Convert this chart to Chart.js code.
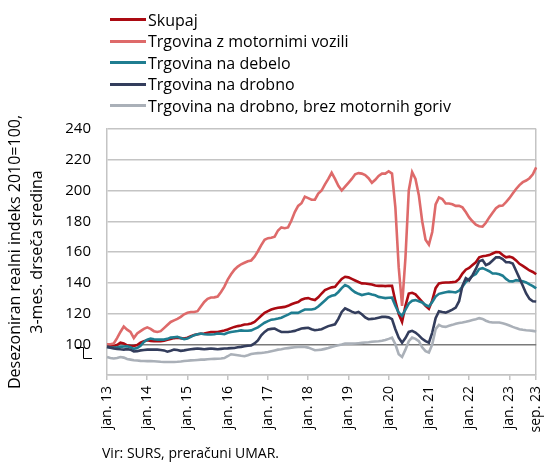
<!DOCTYPE html>
<html>
<head>
<meta charset="utf-8">
<script src="https://cdn.jsdelivr.net/npm/chart.js@4.4.1/dist/chart.umd.min.js"></script>
<style>
    html, body { margin: 0; padding: 0; background: #fff; }
    #wrap { position: relative; width: 559px; height: 465px; font-family: 'Open Sans', sans-serif; }
    #chart { position: absolute; left: 0; top: 0; }
    #legend { position: absolute; left: 110px; top: 9px; }
    .item { display: flex; align-items: center; height: 21.5px; font-size: 16px; color: #000; }
    .item span.line { display: inline-block; width: 36px; height: 3px; margin-right: 2px; }
    #source { position: absolute; left: 102px; top: 443px; font-size: 14px; color: #000; }
</style>
</head>
<body>
<div id="wrap">
    <canvas id="chart" width="559" height="465"></canvas>
    <div id="legend"></div>
    <div id="source">Vir: SURS, preračuni UMAR.</div>
</div>
<script>
const years = ['13', '14', '15', '16', '17', '18', '19', '20', '21', '22', '23'];
const monthNames = ['jan.', 'feb.', 'mar.', 'apr.', 'maj.', 'jun.', 'jul.', 'avg.', 'sep.', 'okt.', 'nov.', 'dec.'];
const lastMonth = 8; // sep. 23

const yTicks = [80, 100, 120, 140, 160, 180, 200, 220, 240];

const skupaj = [
    99.3, 99, 98.7, 99.5, 101, 100.5, 99.3, 99, 98.9, 99.5, 101, 102,
    102.6, 102.2, 102, 102, 102, 102.3, 103, 103.5, 104, 104.3, 104, 103.7,
    104.3, 105.2, 106, 106.5, 106.8, 107, 107.5, 108, 108, 108, 108.5, 109,
    109.6, 110.5, 111.3, 111.8, 112.2, 112.8, 113, 113.5, 114.5, 116.5, 118.5, 120.4,
    121.5, 122.6, 123.2, 123.7, 124, 124.3, 125, 126, 126.8, 127.4, 129, 129.8,
    130, 129.2, 128.7, 130.5, 133, 135.2, 136.2, 137, 137.4, 140, 142.5, 143.9,
    143.5, 142.5, 141.5, 140.5, 139.6, 139.5, 139.2, 138.8, 138.2, 138, 138, 137.8,
    138, 138, 128, 119.6, 114.5, 125, 133, 133.5, 132.5, 130, 127.5, 125,
    123, 128.5, 136.5, 139.6, 140, 140.2, 140.2, 140.4, 140.7, 142.5, 146, 148.5,
    149.6, 151.5, 153.3, 156.5, 157.2, 157.5, 158, 159, 160, 159.8, 158, 156.5,
    157, 156.3, 154.5, 152.3, 151, 149.5, 148, 147, 145.5
];

const motornaVozila = [
    100, 100, 100.5, 104, 108, 111.5, 109.5, 108, 104, 107, 108.5, 110,
    111, 110, 108.5, 108, 108.5, 110.5, 112.5, 114.5, 115.5, 116.5, 117.8, 119.5,
    120.5, 121, 121, 121.5, 124.5, 127.5, 129.5, 130.4, 130.5, 131, 134, 137.5,
    142, 145.5, 148.5, 150.5, 152, 153, 154, 154.5, 157, 160.5, 164.5, 168,
    169, 169.3, 170, 174, 176, 175.5, 176, 180.5, 186, 190, 191.7, 196,
    195, 194, 194, 198, 200, 204, 207.5, 211.5, 207.5, 203, 200, 202.5,
    205, 207.5, 210.5, 211.3, 211, 210, 208, 205, 207, 209.5, 211, 211,
    212.5, 211, 189, 150, 125, 156, 200, 212, 207.5, 197, 180, 168,
    164.8, 173, 191, 195.5, 194.5, 191.5, 191.5, 191, 190, 190, 189, 186,
    182.5, 180, 177.8, 176.8, 176.5, 179, 182.5, 185.5, 188.5, 190, 190.2, 192.5,
    195, 198, 201, 203.5, 205.4, 206.5, 208, 210.5, 215
];

const naDebelo = [
    98.3, 98, 97.8, 98, 98.3, 98.5, 98.7, 98, 97, 97.5, 99, 101.5,
    103, 103.7, 103.2, 103, 103, 103, 103.5, 104.3, 104.6, 104.8, 104, 103.3,
    103.7, 104.8, 105.9, 106.5, 107, 106.5, 106.3, 106.3, 106.5, 107, 106.8, 106.5,
    107.5, 108, 108.3, 108.6, 109, 108.8, 108.8, 109, 110, 111, 112.5, 114,
    115, 116, 116.3, 116.7, 117.3, 118.3, 119.3, 120.4, 120.4, 120.4, 121.5, 122.6,
    122.6, 122.6, 123, 124.5, 126.5, 128.5, 130.5, 131.5, 132, 134, 136.5, 138.5,
    137.5, 135.5, 133.8, 132.8, 132, 132.5, 133, 132.3, 131.8, 130.8, 130.4, 130,
    130.2, 130.3, 125, 120.5, 118.5, 122.5, 126.5, 128.3, 128.7, 128, 127.2, 125.5,
    124.6, 127.5, 131, 132.8, 133.4, 133.8, 134.2, 134, 133.7, 134.8, 137.5, 140.5,
    142.4, 144.5, 145.7, 148.9, 149.5, 148.5, 147.5, 146, 146, 145.5, 144.6, 142.5,
    141, 140.9, 141.7, 141.3, 141, 140.2, 138.9, 137.8, 136.3
];

const naDrobno = [
    98.3, 97.8, 97.2, 97, 96.7, 96.5, 96.8, 96.5, 95.3, 95.5, 96, 96.3,
    96.5, 96.5, 96.6, 96.5, 96.3, 96, 95.2, 95.8, 96.5, 96.3, 95.7, 96,
    96.4, 96.7, 97, 97.2, 97, 96.8, 97, 97.2, 97, 96.8, 97, 97.2,
    97.3, 97.5, 97.6, 98, 98.3, 98.7, 99, 99.2, 100.5, 102.5, 105.8, 108,
    109.6, 110, 110.2, 109, 108, 108, 108, 108.3, 108.7, 109.5, 110.2, 110.5,
    110.7, 109.8, 109.1, 109.4, 109.8, 110.8, 111.8, 112.4, 113, 116.5, 121, 123.3,
    122.3, 121.2, 120.4, 121, 119.5, 117.5, 116.3, 116.5, 116.7, 117.3, 117.8, 117.8,
    117.5, 116.3, 109.8, 104.3, 101, 104, 108, 108.7, 107.6, 105.8, 103.5, 102,
    101, 107.6, 117, 121.5, 121, 120.6, 121.5, 122.5, 123.9, 128, 138, 143,
    141.5, 145, 149, 154, 154.8, 151.5, 152.5, 154.5, 156.5, 156.5, 155.4, 153.3,
    153.3, 152.5, 147.8, 143, 138, 133, 129.5, 128, 127.8
];

const brezGoriv = [
    91.7, 91, 90.7, 91, 91.7, 91.3, 90.4, 90, 89.6, 89.4, 89.2, 89.1,
    89, 89, 88.9, 88.8, 88.6, 88.5, 88.5, 88.5, 88.5, 88.6, 88.8, 89.1,
    89.3, 89.5, 89.6, 89.8, 90, 90, 90.2, 90.4, 90.5, 90.6, 90.7, 91,
    92.2, 93.5, 93.2, 92.9, 92.5, 92.2, 92.8, 93.6, 94, 94.2, 94.3, 94.6,
    95, 95.5, 96, 96.5, 96.8, 97.2, 97.5, 97.8, 98, 98.2, 98.3, 98.2,
    97.8, 97, 96.1, 96.3, 96.5, 97, 97.5, 98.2, 98.8, 99.3, 99.8, 100.4,
    100.4, 100.4, 100.5, 100.7, 100.9, 101.1, 101.3, 101.6, 101.8, 102, 102.3, 102.8,
    103.5, 104.3, 100, 93.5, 91.7, 96.5, 102, 104.3, 103.5, 102, 98, 95.5,
    94.6, 100, 109.8, 112.6, 111.5, 111.3, 112, 112.6, 113.3, 113.8, 114.1, 114.6,
    115.2, 115.8, 116.3, 117, 116.5, 115.3, 114.5, 114.1, 114.1, 114.1, 113.6, 113,
    112.2, 111.3, 110.5, 109.8, 109.4, 109.1, 108.9, 108.7, 108.3
];

const labels = [];
years.forEach((yr, i) => {
    monthNames.forEach((mn, j) => {
        if (i === years.length - 1 && j > lastMonth) {
            return;
        }
        labels.push(`${mn} ${yr}`);
    });
});

const shownTick = (index) => index % 12 === 0 || index === labels.length - 1;

// small axis-break mark left of the y axis
const axisBreak = {
    id: 'axisBreak',
    afterDraw(chart) {
        const y = chart.scales.y;
        const ctx = chart.ctx;
        const top = Math.round(y.getPixelForValue(98));
        const bottom = Math.round(y.getPixelForValue(91));
        const x = Math.round(y.right - 24);
        ctx.save();
        ctx.strokeStyle = '#000';
        ctx.lineWidth = 1;
        ctx.beginPath();
        ctx.moveTo(x - 7, top + 0.5);
        ctx.lineTo(x + 0.5, top + 0.5);
        ctx.lineTo(x + 0.5, bottom + 0.5);
        ctx.lineTo(x + 9, bottom + 0.5);
        ctx.stroke();
        ctx.restore();
    },
};

const series = [
    { label: 'Skupaj', data: skupaj, color: '#ab0a12' },
    { label: 'Trgovina z motornimi vozili', data: motornaVozila, color: '#de6a6a' },
    { label: 'Trgovina na debelo', data: naDebelo, color: '#1f7d90' },
    { label: 'Trgovina na drobno', data: naDrobno, color: '#333d5c' },
    { label: 'Trgovina na drobno, brez motornih goriv', data: brezGoriv, color: '#aab0b8' },
];

const chart = new Chart(document.getElementById('chart'), {
    type: 'line',
    data: {
        labels: labels,
        datasets: series.map((s, i) => ({
            label: s.label,
            data: s.data,
            borderColor: s.color,
            backgroundColor: s.color,
            borderWidth: 2.6,
            pointRadius: 0,
            tension: 0,
            order: series.length - i,
        })),
    },
    options: {
        responsive: false,
        animation: false,
        layout: {
            padding: { top: 129, right: 6, bottom: 30, left: 0 },
        },
        plugins: {
            legend: { display: false },
            tooltip: { enabled: false },
        },
        scales: {
            x: {
                afterFit(scale) {
                    scale.height = 60;
                },
                grid: {
                    drawOnChartArea: true,
                    color: (ctx) => (ctx.index === labels.length - 1 ? '#c4c4c4' : 'rgba(0,0,0,0)'),
                    tickColor: (ctx) => (shownTick(ctx.index) ? '#c4c4c4' : 'rgba(0,0,0,0)'),
                    tickLength: 5,
                    lineWidth: 1.5,
                },
                border: { display: true, color: '#c4c4c4', width: 1.5 },
                ticks: {
                    autoSkip: false,
                    maxRotation: 90,
                    minRotation: 90,
                    padding: 6,
                    color: '#000',
                    font: { family: 'Open Sans', size: 14 },
                    callback(value, index) {
                        return shownTick(index) ? this.getLabelForValue(value) : '';
                    },
                },
            },
            y: {
                min: yTicks[0],
                max: yTicks[yTicks.length - 1],
                afterFit(scale) {
                    scale.width = 107;
                },
                afterBuildTicks(scale) {
                    scale.ticks = yTicks.map((v) => ({ value: v }));
                },
                grid: {
                    drawTicks: false,
                    color: (ctx) => (ctx.tick && ctx.tick.value === 100 ? '#7a7a7a' : '#c4c4c4'),
                    lineWidth: 1.5,
                },
                border: { display: true, color: '#c4c4c4', width: 1.5 },
                ticks: {
                    padding: 16,
                    color: '#000',
                    font: { family: 'Open Sans', size: 15 },
                    callback(value) {
                        return value === 80 ? '' : value;
                    },
                },
                title: {
                    display: true,
                    text: ['Desezoniran realni indeks 2010=100,', '3-mes. drseča sredina'],
                    color: '#000',
                    font: { family: 'Open Sans', size: 16, lineHeight: 1.38 },
                    padding: { top: 4, bottom: 0 },
                },
            },
        },
    },
    plugins: [axisBreak],
});

const legendBox = document.getElementById('legend');
chart.data.datasets.forEach((ds) => {
    const item = document.createElement('div');
    item.className = 'item';
    const line = document.createElement('span');
    line.className = 'line';
    line.style.background = ds.borderColor;
    const text = document.createElement('span');
    text.textContent = ds.label;
    item.appendChild(line);
    item.appendChild(text);
    legendBox.appendChild(item);
});
</script>
</body>
</html>
